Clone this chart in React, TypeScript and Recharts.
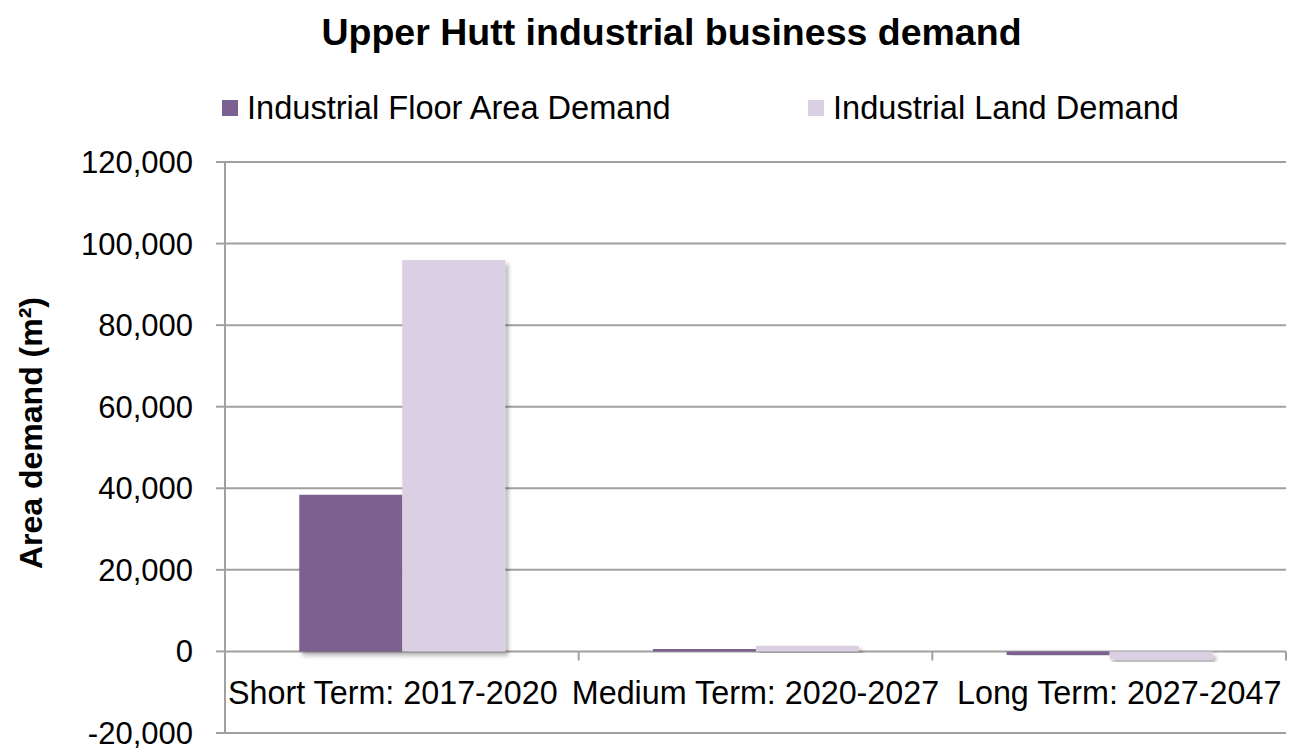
import React from 'react';
import {
  BarChart,
  Bar,
  XAxis,
  YAxis,
  CartesianGrid,
  Rectangle
} from 'recharts';

const categories = [
  'Short Term: 2017-2020',
  'Medium Term: 2020-2027',
  'Long Term: 2027-2047'
];
const floorAreaDemand = [38400, 600, -900];
const landDemand = [96000, 1400, -2000];
const yTicks = [-20000, 0, 20000, 40000, 60000, 80000, 100000, 120000];

const FLOOR_COLOR = '#7B6190';
const LAND_COLOR = '#DBD0E3';
const GRID_COLOR = '#A0A0A0';
const FONT = '"Liberation Sans", Arial, sans-serif';

const W = 1301;
const H = 751;
const PLOT_TOP = 162;
const PLOT_BOTTOM = 733;
const PLOT_LEFT = 225;
const PLOT_RIGHT = 1286;
const Y_MIN = -20000;
const Y_MAX = 120000;
const ZERO_Y = PLOT_TOP + ((Y_MAX - 0) / (Y_MAX - Y_MIN)) * (PLOT_BOTTOM - PLOT_TOP);
// Excel nudges the outer labels apart so they don't collide
const LABEL_NUDGE = [-9, 0, 10];

const data = categories.map((name, i) => ({
  name,
  floor: floorAreaDemand[i],
  land: landDemand[i]
}));

const CategoryTick = (props: any) => {
  const { x, payload, index } = props;
  const half = payload && payload.offset ? payload.offset : (PLOT_RIGHT - PLOT_LEFT) / categories.length / 2;
  return (
    <g>
      <line x1={x + half} x2={x + half} y1={ZERO_Y} y2={ZERO_Y + 9} stroke={GRID_COLOR} strokeWidth={2} />
      <text
        x={x + (LABEL_NUDGE[index] || 0)}
        y={ZERO_Y + 53}
        textAnchor="middle"
        fontFamily={FONT}
        fontSize={32.3}
        fill="#000"
      >
        {payload.value}
      </text>
    </g>
  );
};

const ShadowBar = (props: any) => <Rectangle {...props} filter="url(#barShadow)" />;

const LegendItem = ({ color, label, left }: { color: string; label: string; left: number }) => (
  <div style={{ position: 'absolute', left, top: 90, display: 'flex', alignItems: 'center' }}>
    <div style={{ width: 16, height: 16, background: color, marginRight: 9 }} />
    <span style={{ fontFamily: FONT, fontSize: 32.6, color: '#000', lineHeight: '36px' }}>{label}</span>
  </div>
);

export default function App() {
  return (
    <div style={{ position: 'absolute', left: 0, top: 0, width: W, height: H, background: '#fff', overflow: 'hidden' }}>
      <div
        style={{
          position: 'absolute',
          left: 0,
          width: 1343,
          top: 10,
          textAlign: 'center',
          fontFamily: FONT,
          fontWeight: 'bold',
          fontSize: 37.5,
          lineHeight: '44px',
          color: '#000',
          whiteSpace: 'nowrap'
        }}
      >
        Upper Hutt industrial business demand
      </div>
      <LegendItem color={FLOOR_COLOR} label="Industrial Floor Area Demand" left={222} />
      <LegendItem color={LAND_COLOR} label="Industrial Land Demand" left={808} />
      <BarChart
        width={W}
        height={H}
        data={data}
        margin={{ top: PLOT_TOP, right: W - PLOT_RIGHT, bottom: 0, left: 0 }}
        barCategoryGap="21%"
        barGap={0}
      >
        <defs>
          <filter id="barShadow" x="-10%" y="-10%" width="130%" height="130%">
            <feDropShadow dx={3} dy={4} stdDeviation={2} floodColor="#000" floodOpacity={0.3} />
          </filter>
        </defs>
        <CartesianGrid vertical={false} stroke={GRID_COLOR} strokeWidth={2} />
        <XAxis
          dataKey="name"
          height={H - PLOT_BOTTOM}
          axisLine={false}
          tickLine={false}
          interval={0}
          tick={<CategoryTick />}
        />
        <YAxis
          width={PLOT_LEFT}
          domain={[Y_MIN, Y_MAX]}
          ticks={yTicks}
          interval={0}
          tickFormatter={(v: number) => v.toLocaleString('en-US')}
          axisLine={{ stroke: GRID_COLOR, strokeWidth: 2 }}
          tickLine={{ stroke: GRID_COLOR, strokeWidth: 2 }}
          tickSize={9}
          tickMargin={23}
          tick={{ fill: '#000', fontSize: 31, fontFamily: FONT }}
          label={{
            content: () => (
              <text
                x={31}
                y={433}
                transform="rotate(-90, 31, 433)"
                textAnchor="middle"
                dominantBaseline="central"
                fontFamily={FONT}
                fontWeight="bold"
                fontSize={32}
                fill="#000"
              >
                Area demand (m²)
              </text>
            )
          }}
        />
        <Bar dataKey="floor" fill={FLOOR_COLOR} isAnimationActive={false} shape={ShadowBar} />
        <Bar dataKey="land" fill={LAND_COLOR} isAnimationActive={false} shape={ShadowBar} />
      </BarChart>
    </div>
  );
}
